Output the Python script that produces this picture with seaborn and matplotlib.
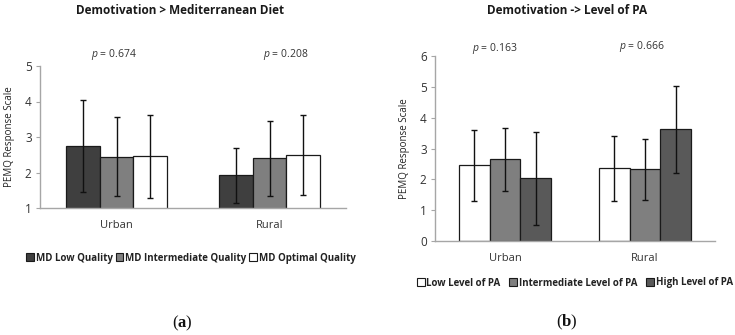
import matplotlib
matplotlib.use("Agg")
import matplotlib.pyplot as plt
import seaborn as sns
import pandas as pd
from matplotlib.patches import Patch

sns.set_style("white")
plt.rcParams['font.family'] = ['Open Sans', 'DejaVu Sans']
plt.rcParams['mathtext.fontset'] = 'custom'
plt.rcParams['mathtext.it'] = 'Open Sans:italic'
plt.rcParams['mathtext.rm'] = 'Open Sans'
plt.rcParams['mathtext.bf'] = 'Liberation Serif:bold'

# ---- data ----
areas = ["Urban", "Rural"]

md_groups = ["MD Low Quality", "MD Intermediate Quality", "MD Optimal Quality"]
md_means = {"MD Low Quality": [2.75, 1.92],
            "MD Intermediate Quality": [2.45, 2.40],
            "MD Optimal Quality": [2.46, 2.49]}
md_sd = {"MD Low Quality": [1.29, 0.78],
         "MD Intermediate Quality": [1.10, 1.06],
         "MD Optimal Quality": [1.17, 1.13]}
md_p = ["0.674", "0.208"]

pa_groups = ["Low Level of PA", "Intermediate Level of PA", "High Level of PA"]
pa_means = {"Low Level of PA": [2.45, 2.36],
            "Intermediate Level of PA": [2.65, 2.32],
            "High Level of PA": [2.03, 3.62]}
pa_sd = {"Low Level of PA": [1.15, 1.06],
         "Intermediate Level of PA": [1.02, 0.99],
         "High Level of PA": [1.52, 1.42]}
pa_p = ["0.163", "0.666"]

md_colors = ["#3f3f3f", "#7f7f7f", "#ffffff"]
pa_colors = ["#ffffff", "#7f7f7f", "#595959"]

W, H = 735, 335
fig = plt.figure(figsize=(W / 100, H / 100), dpi=100)


def px(x, y):
    return x / W, 1 - y / H


def make_df(groups, means, sds):
    rows = []
    for g in groups:
        for i, a in enumerate(areas):
            rows.append({"area": a, "group": g, "mean": means[g][i], "sd": sds[g][i]})
    return pd.DataFrame(rows)


def draw(ax, df, groups, colors, ylim, yticks):
    sns.barplot(data=df, x="area", y="mean", hue="group", hue_order=groups,
                order=areas, palette=colors, edgecolor="#1a1a1a", linewidth=0.9,
                width=0.66, gap=0, errorbar=None, legend=False, ax=ax, saturation=1)
    for cont, g in zip(ax.containers, groups):
        sub = df[df.group == g].set_index("area").loc[areas]
        xs = [b.get_x() + b.get_width() / 2 for b in cont]
        ys = [b.get_height() for b in cont]
        ax.errorbar(xs, ys, yerr=sub["sd"].values, fmt="none", ecolor="#111111",
                    elinewidth=1.0, capsize=2, capthick=1.0, zorder=5)
    ax.set_ylim(*ylim)
    ax.set_yticks(yticks)
    ax.set_xlabel("")
    ax.set_ylabel("PEMQ Response Scale", fontsize=7, color="#222222", labelpad=7)
    for s in ["top", "right"]:
        ax.spines[s].set_visible(False)
    for s in ["left", "bottom"]:
        ax.spines[s].set_color("#a6a6a6")
        ax.spines[s].set_linewidth(1.0)
    ax.tick_params(axis="y", left=True, length=3, color="#a6a6a6", labelsize=8.5,
                   labelcolor="#333333", pad=3)
    ax.tick_params(axis="x", bottom=False, labelsize=8, labelcolor="#333333", pad=5)
    ax.set_xlim(-0.5, 1.5)


# Panel (a)
l, b = px(40, 208)
ax1 = fig.add_axes([l, b, 306 / W, 142 / H])
draw(ax1, make_df(md_groups, md_means, md_sd), md_groups, md_colors, (1, 5), [1, 2, 3, 4, 5])

# Panel (b)
l, b = px(435, 241)
ax2 = fig.add_axes([l, b, 280 / W, 185 / H])
draw(ax2, make_df(pa_groups, pa_means, pa_sd), pa_groups, pa_colors, (0, 6), [0, 1, 2, 3, 4, 5, 6])

# titles
fig.text(*px(180, 10), "Demotivation > Mediterranean Diet", ha="center", va="center",
         fontsize=8.5, fontweight="bold", color="#1a1a1a")
fig.text(*px(567, 10), "Demotivation -> Level of PA", ha="center", va="center",
         fontsize=8.5, fontweight="bold", color="#1a1a1a")

# p values
for (x, y), p in zip([(114, 55), (286, 55)], md_p):
    fig.text(*px(x, y), r"$p$ = " + p, ha="center", va="center", fontsize=7.5, color="#333333")
for (x, y), p in zip([(495, 48), (642, 46)], pa_p):
    fig.text(*px(x, y), r"$p$ = " + p, ha="center", va="center", fontsize=7.5, color="#333333")

# legends
h1 = [Patch(facecolor=c, edgecolor="#1a1a1a", linewidth=0.8) for c in md_colors]
fig.legend(h1, md_groups, loc="center", bbox_to_anchor=px(191, 258), ncol=3, frameon=False,
           prop={"size": 7, "weight": "bold"}, handlelength=0.8, handleheight=0.8,
           handletextpad=0.2, columnspacing=0.3, borderpad=0, labelcolor="#222222")
h2 = [Patch(facecolor=c, edgecolor="#1a1a1a", linewidth=0.8) for c in pa_colors]
fig.legend(h2, pa_groups, loc="center", bbox_to_anchor=px(575, 283), ncol=3, frameon=False,
           prop={"size": 7, "weight": "bold"}, handlelength=0.8, handleheight=0.8,
           handletextpad=0.2, columnspacing=0.9, borderpad=0, labelcolor="#222222")

# panel labels
fig.text(*px(182, 323), r"($\mathbf{a}$)", ha="center", va="center", fontsize=12,
         family="Liberation Serif", color="#111111")
fig.text(*px(567, 322), r"($\mathbf{b}$)", ha="center", va="center", fontsize=12,
         family="Liberation Serif", color="#111111")

fig.savefig("out.png", dpi=100, facecolor="white")
